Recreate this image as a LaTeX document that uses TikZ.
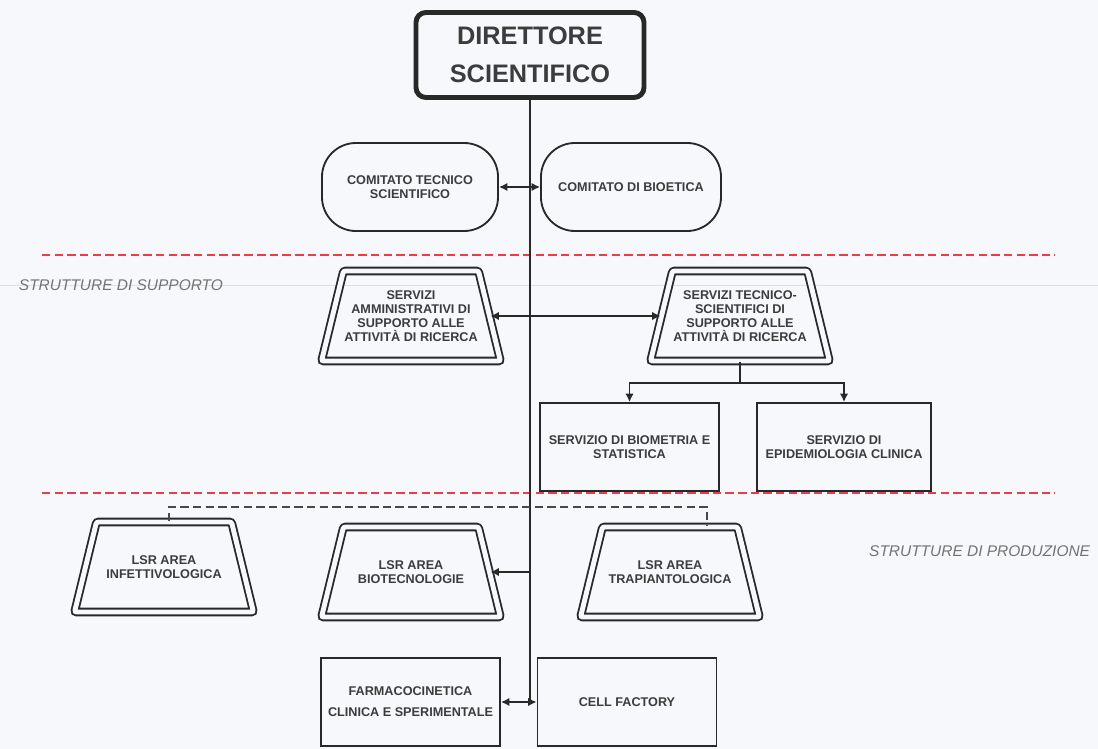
\documentclass[tikz,border=0pt]{standalone}
\usepackage{fontspec}
\setmainfont{Liberation Sans}
\usepackage{tikz}
\usetikzlibrary{calc, positioning, arrows.meta, shapes.geometric}
\definecolor{inkgray}{RGB}{40,40,40}
\definecolor{textgray}{RGB}{60,60,60}
\definecolor{cutred}{RGB}{232,62,74}
\definecolor{paper}{RGB}{247,248,252}
% fixed body for the trapezia
\newcommand{\svcbody}[1]{\parbox[c][2.25cm][c]{3.375cm}{\centering #1}}
\tikzset{
    director/.style={rectangle, rounded corners=0.25cm, draw=inkgray, line width=3.5pt, align=center, minimum width=5.7cm, minimum height=2.125cm, text=textgray, font=\bfseries\fontsize{18}{27}\selectfont},
    committee/.style={rectangle, rounded corners=0.85cm, draw=inkgray, line width=1.3pt, align=center, minimum width=4.4cm, minimum height=2.2cm, text=textgray, font=\bfseries\fontsize{9}{10}\selectfont},
    service/.style={trapezium, trapezium angle=76.3, rounded corners=1.5pt, draw=inkgray, line width=1.3pt, double=paper, double distance=3.5pt, inner sep=0pt, text=textgray, font=\bfseries\fontsize{9}{10}\selectfont},
    office/.style={rectangle, draw=inkgray, line width=1.3pt, align=center, minimum width=4.475cm, minimum height=2.2cm, text=textgray, font=\bfseries\fontsize{9}{10}\selectfont},
    areaname/.style={text=black!55, font=\itshape\fontsize{11}{13}\selectfont}
}
\begin{document}
\begin{tikzpicture}[
        x=0.025cm, y=-0.025cm,
        % connectors
        spine/.style={draw=inkgray, line width=1.5pt},
        line/.style={draw=inkgray, line width=1.3pt, -{Latex[length=6pt,width=6pt]}},
        both/.style={draw=inkgray, line width=1.3pt, {Latex[length=6pt,width=6pt]}-{Latex[length=6pt,width=6pt]}},
        bus/.style={draw=inkgray!85, line width=1.3pt, dash pattern=on 6pt off 3pt},
        cut/.style={draw=cutred, line width=1.3pt, dash pattern=on 6pt off 3pt}
    ]

    % Page
    \fill[paper] (0,0) rectangle (1098,749);
    \useasboundingbox (0,0) rectangle (1098,749);
    \draw[red!18, line width=0.5pt] (0,285) -- (1098,285);

    % --- TOP ---
    \node[director] (dir) at (530,55) {DIRETTORE\\SCIENTIFICO};
    \coordinate (spine) at (530,702);

    \node[committee] (cts) at (410,187) {COMITATO TECNICO\\SCIENTIFICO};
    \node[committee, minimum width=4.5cm] (cdb) at (631,187) {COMITATO DI BIOETICA};

    % Separators
    \draw[cut] (42,255) -- (1055,255);
    \draw[cut] (42,493) -- (1055,493);

    % --- STRUTTURE DI SUPPORTO ---
    \node[areaname, anchor=west] (supp) at (14,285) {STRUTTURE DI SUPPORTO};

    \node[service] (sa) at (411,316) {\svcbody{SERVIZI\\AMMINISTRATIVI DI\\SUPPORTO ALLE\\ATTIVITÀ DI RICERCA}};
    \node[service] (sts) at (740,316) {\svcbody{SERVIZI TECNICO-\\SCIENTIFICI DI\\SUPPORTO ALLE\\ATTIVITÀ DI RICERCA}};

    \node[office] (biom) at (629.5,447) {SERVIZIO DI BIOMETRIA E\\STATISTICA};
    \node[office, minimum width=4.35cm] (epid) at (844,447) {SERVIZIO DI\\EPIDEMIOLOGIA CLINICA};

    % --- STRUTTURE DI PRODUZIONE ---
    \node[areaname, anchor=east] (prod) at (1095,551) {STRUTTURE DI PRODUZIONE};

    \node[service] (inf) at (164,567) {\svcbody{LSR AREA\\INFETTIVOLOGICA}};
    \node[service] (bio) at (411,572) {\svcbody{LSR AREA\\BIOTECNOLOGIE}};
    \node[service] (trap) at (670,572) {\svcbody{LSR AREA\\TRAPIANTOLOGICA}};

    \node[office] (farm) at (410.5,702) {FARMACOCINETICA\\[5pt]CLINICA E SPERIMENTALE};
    \node[office] (cell) at (627,702) {CELL FACTORY};

    % Connections
    \draw[spine] (dir.south) -- (spine);
    \draw[both] (cts.east) -- (cdb.west);
    \draw[both] (sa.east) -- (sts.west);

    \coordinate (fork) at ($(sts.south)+(0,21)$);
    \draw[inkgray, line width=1.3pt] (sts.south) -- (fork);
    \draw[line] (fork) -| (biom.north);
    \draw[line] (fork) -| (epid.north);

    \draw[bus] ($(inf.north)+(5,0)$) |- ($(trap.north)+(37,-19)$) -- ($(trap.north)+(37,0)$);
    \draw[line] (spine |- bio.east) -- (bio.east);
    \draw[both] (farm.east) -- (cell.west);

\end{tikzpicture}
\end{document}
